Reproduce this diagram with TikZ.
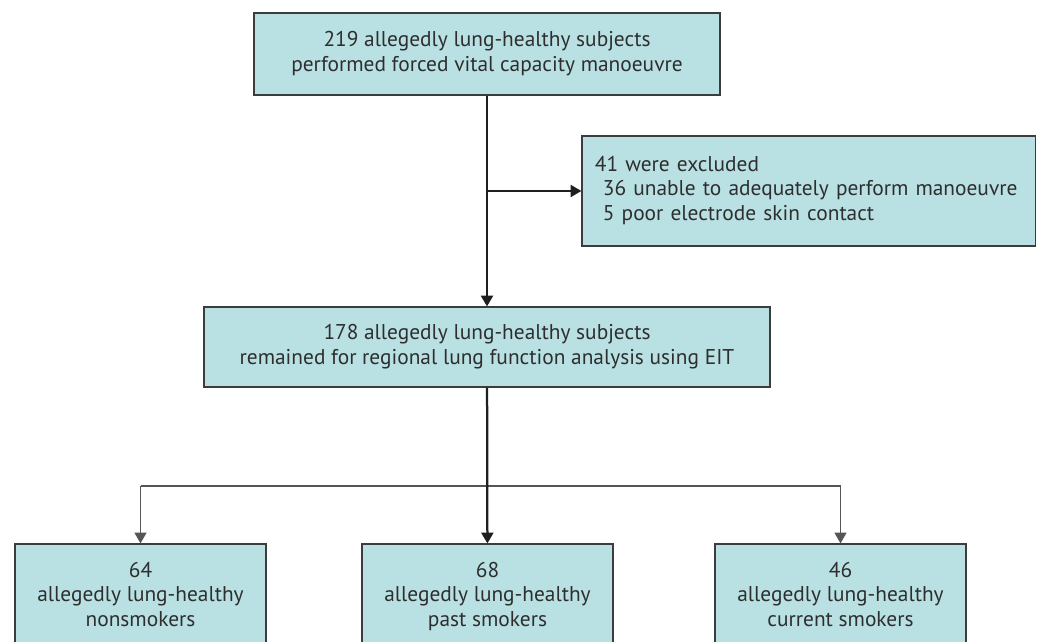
\documentclass[tikz,border=0pt]{standalone}
\usepackage{fontspec}
\setmainfont{PT Sans}
\usetikzlibrary{arrows.meta}

\definecolor{boxfill}{HTML}{B9E1E3}
\definecolor{boxline}{HTML}{3C3C3C}
\definecolor{textgray}{HTML}{2E2E2E}
\definecolor{branchgray}{HTML}{555555}

\def\pu{0.025cm}

\tikzset{
  flowbox/.style={draw=boxline, fill=boxfill, line width=0.8pt, text=textgray,
    align=center, inner sep=0pt, font=\fontsize{15.2}{17.6}\selectfont},
  mainline/.style={draw=black!88, line width=1.6pt},
  branchline/.style={draw=branchgray, line width=0.8pt},
  flowtip/.style={-{Triangle[width=0.3cm,length=0.27cm]}}
}

\begin{document}
\begin{tikzpicture}[x=\pu, y=-\pu]

    % 1. Page frame, same size as the reference
    \useasboundingbox (0,0) rectangle (1038,642);
    \clip (0,0) rectangle (1038,642);

    % 2. Boxes of the flow
    \node[flowbox, minimum width=466*\pu, minimum height=82*\pu] (screened) at (487,54)
        {\strut 219 allegedly lung-healthy subjects\\performed forced vital capacity manoeuvre\strut};
    \node[flowbox, align=left, text width=10.675cm, inner xsep=13*\pu, minimum height=110*\pu] (excl) at (808.5,191)
        {\strut 41 were excluded\\
         \hspace*{0.2cm}36 unable to adequately perform manoeuvre\\
         \hspace*{0.2cm}5 poor electrode skin contact\strut};
    \node[flowbox, minimum width=566*\pu, minimum height=80*\pu] (remain) at (487,347)
        {\strut 178 allegedly lung-healthy subjects\\remained for regional lung function analysis using EIT\strut};

    % 3. The three groups at the bottom (cut by the page edge)
    \node[flowbox, minimum width=251*\pu, minimum height=106*\pu] (nonsm) at (140.5,597)
        {\strut 64\\allegedly lung-healthy\\nonsmokers\strut};
    \node[flowbox, minimum width=251*\pu, minimum height=106*\pu] (pastsm) at (487.5,597)
        {\strut 68\\allegedly lung-healthy\\past smokers\strut};
    \node[flowbox, minimum width=251*\pu, minimum height=106*\pu] (cursm) at (840.5,597)
        {\strut 46\\allegedly lung-healthy\\current smokers\strut};

    % 4. Main line and the exclusion branch
    \coordinate (branch) at (487,191);
    \draw[mainline, flowtip] (screened) -- (remain);
    \draw[mainline, flowtip] (branch) -- (excl.west);

    % 5. Split into the three groups
    \coordinate (split) at (487,486);
    \draw[branchline] (nonsm.north |- split) -- (cursm.north |- split);
    \draw[branchline, flowtip] (nonsm.north |- split) -- (nonsm.north);
    \draw[branchline, flowtip] (cursm.north |- split) -- (cursm.north);
    \draw[mainline, flowtip] (remain) -- (pastsm);

\end{tikzpicture}
\end{document}
